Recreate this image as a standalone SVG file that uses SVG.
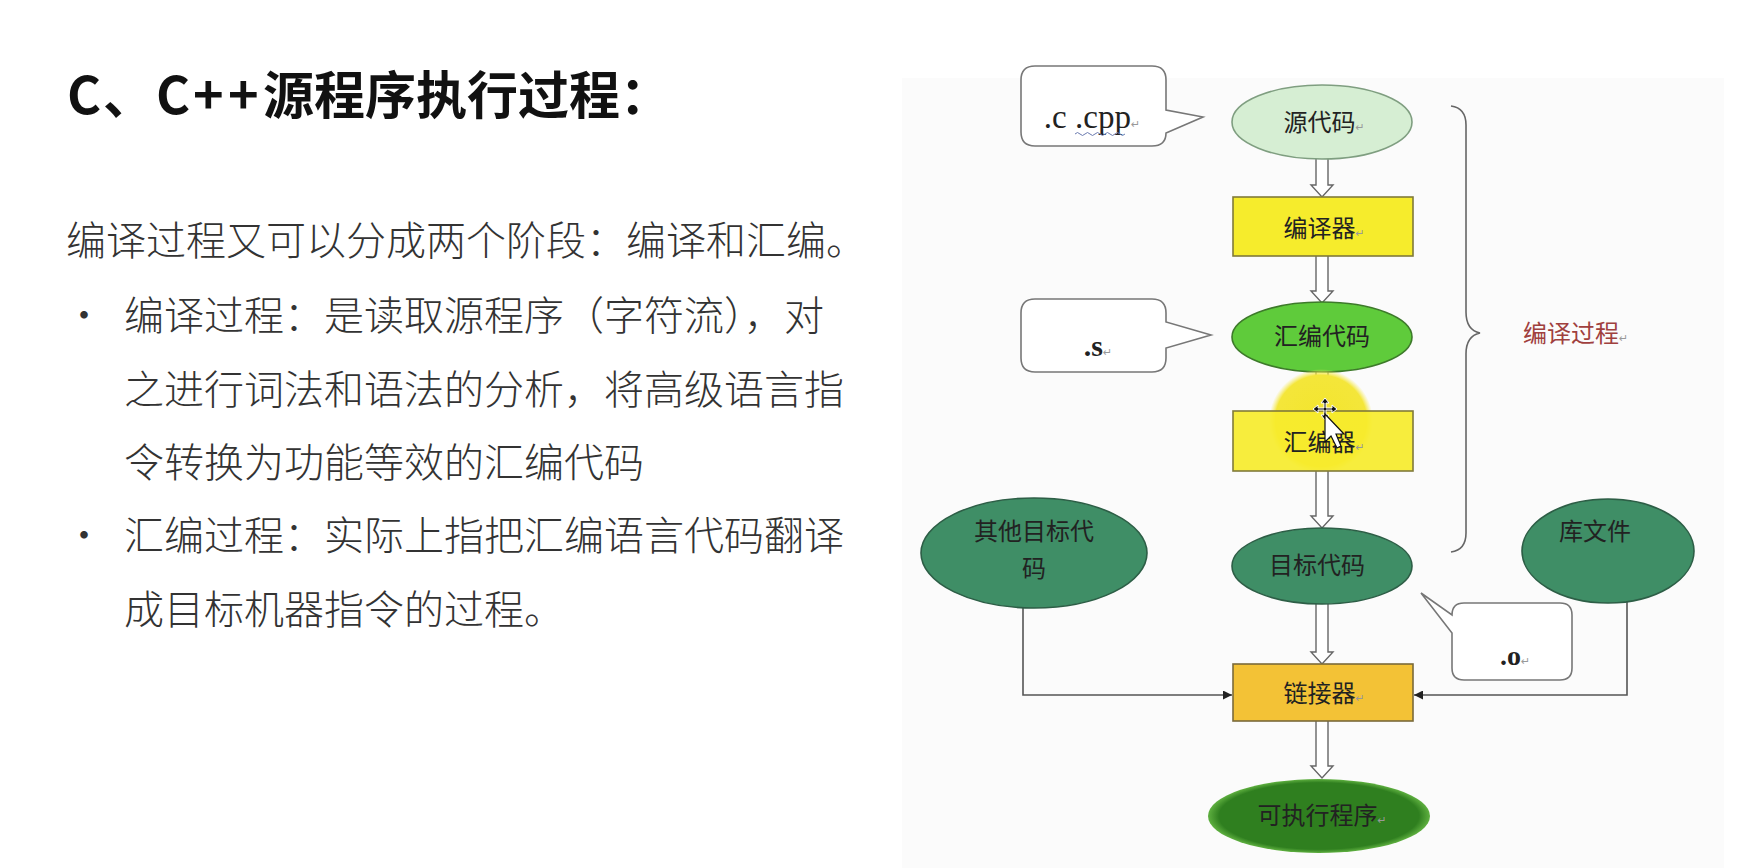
<svg xmlns="http://www.w3.org/2000/svg" width="1750" height="868" viewBox="0 0 1750 868">
<defs>
<style>
.cn{font-family:"Noto Sans CJK SC","Noto Sans",sans-serif;}
.lbl{font-family:"Noto Sans CJK SC",sans-serif;font-size:24px;fill:#222;text-anchor:middle;}
.ret{font-family:"DejaVu Sans",sans-serif;font-size:11px;fill:#999;}
.body{font-family:"Noto Sans CJK SC",sans-serif;font-size:40px;fill:#333;font-weight:300;}
.bub{fill:#fff;stroke:#777;stroke-width:1.6;}
.blk{fill:#fff;stroke:#666;stroke-width:1.4;}
.con{fill:none;stroke:#555;stroke-width:1.6;}
.ser{font-family:"Liberation Serif",serif;fill:#222;text-anchor:middle;}
</style>
<marker id="ah" viewBox="0 0 10 10" refX="10" refY="5" markerWidth="9" markerHeight="9" markerUnits="userSpaceOnUse" orient="auto">
<path d="M0,0 L10,5 L0,10 Z" fill="#222"/>
</marker>
<radialGradient id="hl" cx="0.5" cy="0.5" r="0.5">
<stop offset="0" stop-color="#f3e52c"/>
<stop offset="0.88" stop-color="#f4e63a"/>
<stop offset="1" stop-color="#f6ea5a" stop-opacity="0"/>
</radialGradient>
<radialGradient id="exe" cx="0.5" cy="0.5" r="0.5">
<stop offset="0.9" stop-color="#2f7f1f"/>
<stop offset="1" stop-color="#5fb040"/>
</radialGradient>
</defs>
<rect width="1750" height="868" fill="#ffffff"/>

<!-- left text -->
<g id="title">
<text class="cn" y="114" font-size="51" font-weight="700" fill="#111"><tspan x="67" font-size="52">C</tspan><tspan x="103">、</tspan><tspan x="156" font-size="52">C</tspan><tspan x="193" font-size="52">+</tspan><tspan x="228" font-size="52">+</tspan><tspan x="263">源程序执行过程</tspan><tspan>：</tspan></text>
</g>
<g id="bodytext">
<text class="body" x="66" y="255">编译过程又可以分成两个阶段：编译和汇编。</text>
<text class="body" x="64" y="330" font-size="30">•</text>
<text class="body" x="124" y="330">编译过程：是读取源程序（字符流），对</text>
<text class="body" x="124" y="404">之进行词法和语法的分析，将高级语言指</text>
<text class="body" x="124" y="477">令转换为功能等效的汇编代码</text>
<text class="body" x="64" y="550" font-size="30">•</text>
<text class="body" x="124" y="550">汇编过程：实际上指把汇编语言代码翻译</text>
<text class="body" x="124" y="624">成目标机器指令的过程。</text>
</g>

<!-- diagram background -->
<rect x="902" y="78" width="822" height="790" fill="#fbfbfb"/>

<g id="connectors">
<path class="blk" d="M1316,158 V185 H1311 L1322,197 L1333,185 H1328 V158"/>
<path class="blk" d="M1316,256 V291 H1311 L1322,303 L1333,291 H1328 V256"/>
<path class="blk" d="M1316,372 V399 H1311 L1322,411 L1333,399 H1328 V372"/>
<path class="blk" d="M1316,471 V516 H1311 L1322,528 L1333,516 H1328 V471"/>
<path class="blk" d="M1316,604 V652 H1311 L1322,664 L1333,652 H1328 V604"/>
<path class="blk" d="M1316,721 V766 H1311 L1322,778 L1333,766 H1328 V721"/>
<path class="con" d="M1023,608 V695 H1232" marker-end="url(#ah)"/>
<path class="con" d="M1627,602 V695 H1414" marker-end="url(#ah)"/>
<path d="M1451,106 Q1466,108 1466,125 V312 Q1466,330 1480,333 Q1466,336 1466,354 V533 Q1466,550 1451,552" fill="none" stroke="#666" stroke-width="1.6"/>
</g>

<g id="bubble_c">
<path class="bub" d="M1035,66 H1152 Q1166,66 1166,80 V110 L1203,117 L1166,133 V133 Q1166,146 1152,146 H1035 Q1021,146 1021,132 V80 Q1021,66 1035,66 Z"/>
<text class="ser" x="1092" y="128" font-size="33">.c .cpp<tspan class="ret">↵</tspan></text>
<path d="M1075,134 q2.5,-3 5,0 t5,0 t5,0 t5,0 t5,0 t5,0 t5,0 t5,0 t5,0 t5,0" fill="none" stroke="#6b7bb0" stroke-width="1"/>
</g>

<g id="bubble_s">
<path class="bub" d="M1035,299 H1152 Q1166,299 1166,313 V322 L1211,335 L1166,348 V358 Q1166,372 1152,372 H1035 Q1021,372 1021,358 V313 Q1021,299 1035,299 Z"/>
<text class="ser" x="1098" y="356" font-size="30" font-weight="700">.s<tspan class="ret" font-weight="400">↵</tspan></text>
</g>

<g id="bubble_o">
<path class="bub" d="M1464,603 H1560 Q1572,603 1572,615 V668 Q1572,680 1560,680 H1464 Q1452,680 1452,668 V633 L1421,593 L1452,615 Q1452,603 1464,603 Z"/>
<text class="ser" x="1515" y="665" font-size="28" font-weight="700">.o<tspan class="ret" font-weight="400">↵</tspan></text>
</g>

<g id="n_source">
<ellipse cx="1322" cy="122" rx="90" ry="37" fill="#d6eed3" stroke="#7f9e80" stroke-width="1.6"/>
<text class="lbl" x="1324" y="131" font-size="27">源代码<tspan class="ret">↵</tspan></text>
</g>
<g id="n_compiler">
<rect x="1233" y="197" width="180" height="59" fill="#f6ec2c" stroke="#807a3a" stroke-width="1.6"/>
<text class="lbl" x="1324" y="237" font-size="27">编译器<tspan class="ret">↵</tspan></text>
</g>
<g id="n_asm">
<ellipse cx="1322" cy="337" rx="90" ry="35" fill="#5fcb3b" stroke="#3d7a2a" stroke-width="1.6"/>
<text class="lbl" x="1322" y="345" font-size="24">汇编代码</text>
</g>

<g id="highlight">
<circle cx="1321" cy="421" r="52" fill="url(#hl)"/>
</g>

<g id="n_assembler">
<rect x="1233" y="411" width="180" height="60" fill="#f6ec2c" fill-opacity="0.92" stroke="#807a3a" stroke-width="1.6"/>
<text class="lbl" x="1324" y="451" font-size="27">汇编器<tspan class="ret">↵</tspan></text>
</g>

<g id="cursor">
<path d="M1325,398 l-4,5 h3 v5 h-6 v-3 l-5,4 l5,4 v-3 h6 v5 h-3 l4,5 l4,-5 h-3 v-5 h6 v3 l5,-4 l-5,-4 v3 h-6 v-5 h3 Z" fill="#111" stroke="#fff" stroke-width="1"/>
<path d="M1325,414 V442 L1331,436 L1337,448 L1341,446 L1336,434 L1344,434 Z" fill="#fff" stroke="#111" stroke-width="1.2"/>
</g>

<g id="n_other">
<ellipse cx="1034" cy="553" rx="113" ry="55" fill="#3f8e66" stroke="#2d5e46" stroke-width="1.6"/>
<text class="lbl" x="1034" y="540" font-size="25">其他目标代</text>
<text class="lbl" x="1034" y="577" font-size="25">码</text>
</g>
<g id="n_obj">
<ellipse cx="1322" cy="566" rx="90" ry="38" fill="#3f8e66" stroke="#2d5e46" stroke-width="1.6"/>
<text class="lbl" x="1317" y="574" font-size="24">目标代码</text>
</g>
<g id="n_lib">
<ellipse cx="1608" cy="551" rx="86" ry="52" fill="#3f8e66" stroke="#2d5e46" stroke-width="1.6"/>
<text class="lbl" x="1595" y="540" font-size="25">库文件</text>
</g>
<g id="n_linker">
<rect x="1233" y="664" width="180" height="57" fill="#f3c236" stroke="#7a6a3a" stroke-width="1.6"/>
<text class="lbl" x="1324" y="702" font-size="27">链接器<tspan class="ret">↵</tspan></text>
</g>
<g id="n_exe">
<ellipse cx="1319" cy="816" rx="111" ry="37" fill="url(#exe)"/>
<text class="lbl" x="1322" y="824" font-size="25" fill="#1c3a14">可执行程序<tspan class="ret">↵</tspan></text>
</g>

<g id="label_compile">
<text class="cn" x="1523" y="342" font-size="24" fill="#a0403e">编译过程<tspan class="ret">↵</tspan></text>
</g>
</svg>
